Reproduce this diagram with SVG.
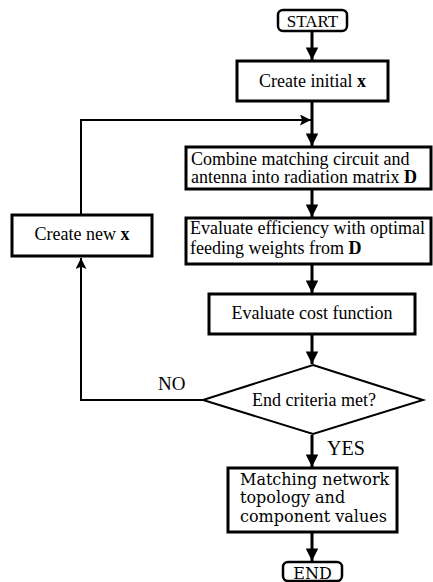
<svg xmlns="http://www.w3.org/2000/svg" width="433" height="582" viewBox="0 0 433 582">
<defs>
<marker id="ah" viewBox="0 0 10 10" refX="10" refY="5" markerWidth="4.2" markerHeight="4.2" markerUnits="strokeWidth" orient="auto">
<path d="M0,0 L10,5 L0,10 Z" fill="#000"/>
</marker>
<marker id="ah2" viewBox="0 0 10 10" refX="10" refY="5" markerWidth="6" markerHeight="5.5" markerUnits="strokeWidth" orient="auto">
<path d="M0,0 L10,5 L0,10 L2,5 Z" fill="#000"/>
</marker>
<style>
.box{fill:#fff;stroke:#000;stroke-width:3}
.dia{fill:#fff;stroke:#000;stroke-width:2}
.t{font-family:"Liberation Serif","Times New Roman",serif;font-size:18px;fill:#000}
.d{font-family:"DejaVu Serif",serif;font-size:16px;fill:#000}
.c{text-anchor:middle}
.main{fill:none;stroke:#000;stroke-width:3;marker-end:url(#ah)}
.fb{fill:none;stroke:#000;stroke-width:2}
</style>
</defs>
<g id="connectors">
<path class="main" d="M312,31 L312,60"/>
<path class="main" d="M312,101 L312,146"/>
<path class="main" d="M312,189 L312,217"/>
<path class="main" d="M312,264 L312,293"/>
<path class="main" d="M312,334 L312,364"/>
<path class="main" d="M312,435 L312,467"/>
<path class="main" d="M312,532 L312,561"/>
<path class="fb" d="M81,215 L81,120 L311,120" marker-end="url(#ah2)"/>
<path class="fb" d="M203,400 L81,400 L81,258" marker-end="url(#ah2)"/>
<text class="t" x="158" y="390" style="font-size:19px">NO</text>
<text class="t" x="327" y="455" style="font-size:20px">YES</text>
</g>
<g id="start">
<rect class="box" x="278" y="10" width="69" height="21" rx="5" style="stroke-width:2.5"/>
<text class="t c" x="312.5" y="27" style="font-size:17px">START</text>
</g>
<g id="create-initial">
<rect class="box" x="237" y="61" width="151" height="40"/>
<text class="t c" x="312.5" y="87">Create initial <tspan font-weight="bold">x</tspan></text>
</g>
<g id="combine">
<rect class="box" x="186" y="147" width="245" height="42"/>
<text class="t" x="191" y="165">Combine matching circuit and</text>
<text class="t" x="191" y="183">antenna into radiation matrix <tspan font-weight="bold">D</tspan></text>
</g>
<g id="evaluate-efficiency">
<rect class="box" x="186" y="218" width="245" height="46"/>
<text class="t" x="190" y="234">Evaluate efficiency with optimal</text>
<text class="t" x="190" y="254">feeding weights from <tspan font-weight="bold">D</tspan></text>
</g>
<g id="evaluate-cost">
<rect class="box" x="209" y="294" width="206" height="40"/>
<text class="t c" x="312" y="319">Evaluate cost function</text>
</g>
<g id="end-criteria">
<polygon class="dia" points="313,365 423,400 313,434 203,400"/>
<text class="t c" x="314" y="406">End criteria met?</text>
</g>
<g id="create-new">
<rect class="box" x="12" y="215" width="140" height="41"/>
<text class="t c" x="82" y="240">Create new <tspan font-weight="bold">x</tspan></text>
</g>
<g id="matching">
<rect class="box" x="228" y="468" width="169" height="64"/>
<text class="d" x="240" y="485">Matching network</text>
<text class="d" x="240" y="503">topology and</text>
<text class="d" x="240" y="522">component values</text>
</g>
<g id="end">
<rect class="box" x="283" y="562" width="59" height="19" rx="5" style="stroke-width:2.5"/>
<text class="d c" x="312.5" y="579">END</text>
</g>
</svg>
